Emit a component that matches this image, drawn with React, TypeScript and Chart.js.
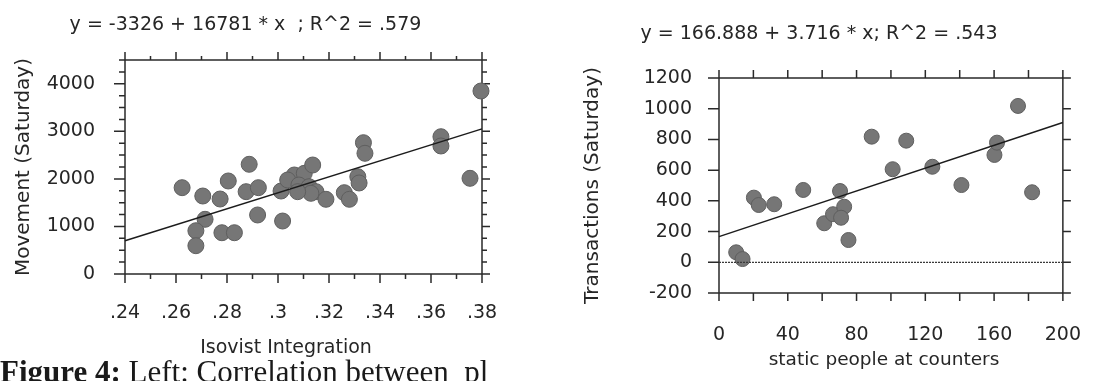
import React, { useEffect, useRef } from "react";
import { Chart, registerables } from "chart.js";

Chart.register(...registerables);

const FONT = "'DejaVu Sans', 'Liberation Sans', sans-serif";
const SERIF = "'Liberation Serif', 'Times New Roman', serif";
const INK = "#262626";
const DOT = "#767676";
const DOT_EDGE = "#5f5f5f";

// ---------- Left panel: Isovist Integration vs Movement ----------
const leftEquation = "y = -3326 + 16781 * x  ; R^2 = .579";
const leftXTitle = "Isovist Integration";
const leftYTitle = "Movement (Saturday)";
const leftIntegration = [
  0.2624, 0.2705, 0.2773, 0.2805, 0.2887, 0.2875, 0.2923, 0.292, 0.2714, 0.2678,
  0.2678, 0.278, 0.2829, 0.3018, 0.3012, 0.3064, 0.3103, 0.3136, 0.3038, 0.3082,
  0.3122, 0.3149, 0.3188, 0.3313, 0.3318, 0.326, 0.328, 0.3335, 0.3341, 0.3639,
  0.3639, 0.3753, 0.3796, 0.3129, 0.3077,
];
const leftMovement = [
  1815, 1640, 1577, 1956, 2307, 1731, 1815, 1241, 1150, 910,
  595, 868, 868, 1114, 1745, 2082, 2117, 2292, 1977, 1871,
  1836, 1731, 1571, 2046, 1914, 1710, 1571, 2761, 2538, 2887,
  2692, 2012, 3848, 1697, 1731,
];
const leftFitX = [0.24, 0.38];
const leftFitY = [701, 3051];
const leftXTicks = [0.24, 0.25, 0.26, 0.27, 0.28, 0.29, 0.3, 0.31, 0.32, 0.33, 0.34, 0.35, 0.36, 0.37, 0.38];
const leftXLabels = [".24", "", ".26", "", ".28", "", ".3", "", ".32", "", ".34", "", ".36", "", ".38"];
const leftYTicks = [0, 250, 500, 750, 1000, 1250, 1500, 1750, 2000, 2250, 2500, 2750, 3000, 3250, 3500, 3750, 4000, 4250, 4500];
const leftYLabels = ["0", "", "", "", "1000", "", "", "", "2000", "", "", "", "3000", "", "", "", "4000", "", ""];

// ---------- Right panel: static people vs Transactions ----------
const rightEquation = "y = 166.888 + 3.716 * x; R^2 = .543";
const rightXTitle = "static people at counters";
const rightYTitle = "Transactions (Saturday)";
const rightStatic = [10, 13.7, 20.3, 23.1, 32.1, 49, 61.2, 66.3, 70.4, 72.8, 71, 75.3, 88.8, 101, 108.9, 124.1, 141, 160.2, 161.7, 173.9, 182.1];
const rightTransactions = [65, 21, 421, 373, 378, 471, 254, 313, 464, 362, 290, 145, 818, 606, 792, 622, 503, 699, 779, 1018, 456];
const rightFitX = [0, 200];
const rightFitY = [166.888, 910.088];
const rightZeroX = [0, 200];
const rightZeroY = [0, 0];
const rightXTicks = [0, 20, 40, 60, 80, 100, 120, 140, 160, 180, 200];
const rightXLabels = ["0", "", "40", "", "80", "", "120", "", "160", "", "200"];
const rightYTicks = [-200, 0, 200, 400, 600, 800, 1000, 1200];
const rightYLabels = ["-200", "0", "200", "400", "600", "800", "1000", "1200"];

const captionBold = "Figure 4:";
const captionRest = " Left: Correlation between  pl";

type Pt = { x: number; y: number };
const pairs = (xs: number[], ys: number[]): Pt[] => xs.map((x, i) => ({ x, y: ys[i] }));

const frameTicks = {
  id: "frameTicks",
  beforeDatasetsDraw(chart: any, _args: any, o: any) {
    const { ctx, chartArea } = chart;
    const { left, right, top, bottom } = chartArea;
    const xs = chart.scales.x;
    const ys = chart.scales.y;
    ctx.save();
    ctx.strokeStyle = o.color;
    ctx.lineWidth = o.width;
    ctx.beginPath();
    ctx.rect(left, top, right - left, bottom - top);
    for (const t of xs.ticks) {
      const p = xs.getPixelForValue(t.value);
      const major = t.label !== "";
      ctx.moveTo(p, bottom);
      ctx.lineTo(p, bottom + (major ? o.bottomMajor : o.bottomMinor));
      ctx.moveTo(p, top);
      ctx.lineTo(p, top - (major ? o.topMajor : o.topMinor));
    }
    for (const t of ys.ticks) {
      const p = ys.getPixelForValue(t.value);
      const major = t.label !== "";
      ctx.moveTo(left, p);
      ctx.lineTo(left - (major ? o.leftMajor : o.leftMinor), p);
      ctx.moveTo(right, p);
      ctx.lineTo(right + (major ? o.rightMajor : o.rightMinor), p);
    }
    ctx.stroke();
    ctx.restore();
  },
};

type PanelSpec = {
  points: Pt[];
  fit: Pt[];
  zero?: Pt[];
  xMin: number; xMax: number; xTicks: number[]; xLabels: string[];
  yMin: number; yMax: number; yTicks: number[]; yLabels: string[];
  yTitle: string; yTitlePad: number;
  yAxisWidth: number; xAxisHeight: number; padTop: number; padRight: number;
  xTickPad: number; yTickPad: number; radius: number; ticks: any;
};

function buildConfig(p: PanelSpec): any {
  const datasets: any[] = [
    {
      data: p.fit, showLine: true, borderColor: "#1c1c1c", borderWidth: 1.5,
      pointRadius: 0, fill: false, order: 0, clip: false,
    },
  ];
  if (p.zero) {
    datasets.push({
      data: p.zero, showLine: true, borderColor: "#3a3a3a", borderWidth: 1.2,
      borderDash: [2, 1], pointRadius: 0, fill: false, order: 1,
    });
  }
  datasets.push({
    data: p.points, showLine: false, pointRadius: p.radius,
    pointBackgroundColor: DOT, pointBorderColor: DOT_EDGE, pointBorderWidth: 1,
    order: 2, clip: false,
  });
  const tickFont = { family: FONT, size: 19 };
  const hiddenGrid = { drawOnChartArea: false, drawTicks: true, tickLength: 10, color: "transparent", tickColor: "transparent" };
  return {
    type: "scatter",
    data: { datasets },
    options: {
      responsive: false,
      animation: false,
      events: [],
      layout: { padding: { top: p.padTop, right: p.padRight, left: 0, bottom: 0 } },
      plugins: {
        legend: { display: false },
        tooltip: { enabled: false },
        frameTicks: p.ticks,
      },
      scales: {
        x: {
          type: "linear", position: "bottom", min: p.xMin, max: p.xMax,
          afterBuildTicks: (s: any) => { s.ticks = p.xTicks.map((v) => ({ value: v })); },
          afterFit: (s: any) => { s.height = p.xAxisHeight; },
          grid: hiddenGrid,
          border: { display: false },
          ticks: {
            autoSkip: false, maxRotation: 0, minRotation: 0, padding: p.xTickPad,
            font: tickFont, color: INK,
            callback: (_v: any, i: number) => p.xLabels[i] ?? "",
          },
        },
        y: {
          type: "linear", position: "left", min: p.yMin, max: p.yMax,
          afterBuildTicks: (s: any) => { s.ticks = p.yTicks.map((v) => ({ value: v })); },
          afterFit: (s: any) => { s.width = p.yAxisWidth; },
          grid: hiddenGrid,
          border: { display: false },
          ticks: {
            autoSkip: false, padding: p.yTickPad, font: tickFont, color: INK,
            callback: (_v: any, i: number) => p.yLabels[i] ?? "",
          },
          title: {
            display: true, text: p.yTitle, color: INK,
            font: { family: FONT, size: 20 }, padding: { top: p.yTitlePad, bottom: 0 },
          },
        },
      },
    },
    plugins: [frameTicks],
  };
}

function Panel({ left, width, height, spec }: { left: number; width: number; height: number; spec: PanelSpec }) {
  const ref = useRef<HTMLCanvasElement>(null);
  useEffect(() => {
    const chart = new Chart(ref.current as HTMLCanvasElement, buildConfig(spec));
    return () => chart.destroy();
  }, []);
  return (
    <canvas
      ref={ref}
      width={width}
      height={height}
      style={{ position: "absolute", left, top: 0, width, height, display: "block" }}
    />
  );
}

const leftSpec: PanelSpec = {
  points: pairs(leftIntegration, leftMovement),
  fit: pairs(leftFitX, leftFitY),
  xMin: 0.24, xMax: 0.38, xTicks: leftXTicks, xLabels: leftXLabels,
  yMin: 0, yMax: 4500, yTicks: leftYTicks, yLabels: leftYLabels,
  yTitle: leftYTitle, yTitlePad: 12,
  yAxisWidth: 125, xAxisHeight: 107, padTop: 60, padRight: 58,
  xTickPad: 18, yTickPad: 20, radius: 8,
  ticks: {
    color: "#2a2a2a", width: 1.5,
    bottomMajor: 9, bottomMinor: 5, topMajor: 8, topMinor: 4,
    leftMajor: 11, leftMinor: 6, rightMajor: 8, rightMinor: 5,
  },
};

const rightSpec: PanelSpec = {
  points: pairs(rightStatic, rightTransactions),
  fit: pairs(rightFitX, rightFitY),
  zero: pairs(rightZeroX, rightZeroY),
  xMin: 0, xMax: 200, xTicks: rightXTicks, xLabels: rightXLabels,
  yMin: -200, yMax: 1200, yTicks: rightYTicks, yLabels: rightYLabels,
  yTitle: rightYTitle, yTitlePad: 21,
  yAxisWidth: 159, xAxisHeight: 88, padTop: 78, padRight: 28,
  xTickPad: 21, yTickPad: 17, radius: 7.5,
  ticks: {
    color: "#2a2a2a", width: 1.5,
    bottomMajor: 8, bottomMinor: 8, topMajor: 8, topMinor: 8,
    leftMajor: 11, leftMinor: 11, rightMajor: 8, rightMinor: 8,
  },
};

const textBase: React.CSSProperties = {
  position: "absolute",
  fontFamily: FONT,
  color: INK,
  whiteSpace: "pre",
  textAlign: "center",
};

export default function App() {
  return (
    <div
      style={{
        position: "absolute", left: 0, top: 0, width: 1102, height: 381,
        background: "#ffffff", overflow: "hidden",
      }}
    >
      <Panel left={0} width={540} height={381} spec={leftSpec} />
      <Panel left={560} width={542} height={381} spec={rightSpec} />
      <div style={{ ...textBase, left: 0, width: 491, top: 10.5, fontSize: 19, lineHeight: "24px" }}>{leftEquation}</div>
      <div style={{ ...textBase, left: 569, width: 500, top: 20.3, fontSize: 19, lineHeight: "24px" }}>{rightEquation}</div>
      <div style={{ ...textBase, left: 136, width: 300, top: 335.2, fontSize: 19, lineHeight: "23px" }}>{leftXTitle}</div>
      <div style={{ ...textBase, left: 734, width: 300, top: 347.6, fontSize: 18.5, lineHeight: "22px" }}>{rightXTitle}</div>
      <div
        style={{
          position: "absolute", left: 0, top: 355.5, fontFamily: SERIF, fontSize: 31,
          lineHeight: "31px", color: "#1a1a1a", whiteSpace: "pre",
        }}
      >
        <b>{captionBold}</b>
        {captionRest}
      </div>
    </div>
  );
}
